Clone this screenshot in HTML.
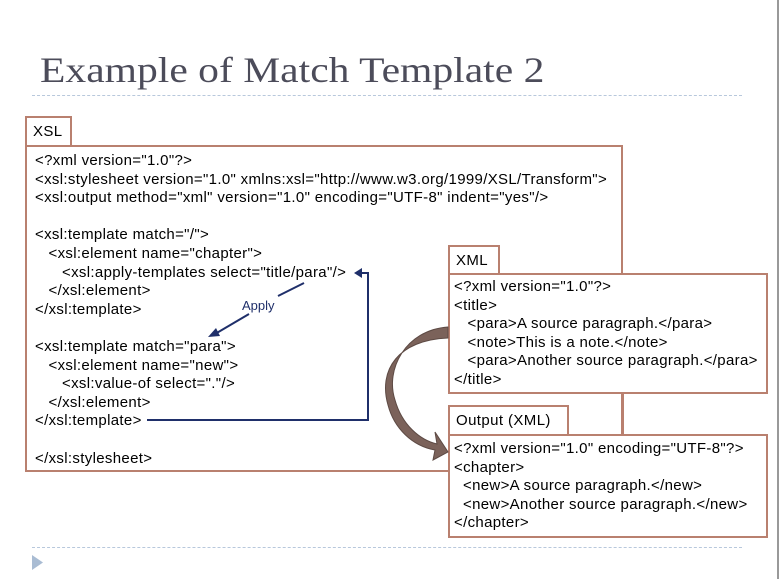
<!DOCTYPE html>
<html><head><meta charset="utf-8"><style>
body{margin:0;width:780px;height:579px;background:#fff;position:relative;overflow:hidden;font-family:"Liberation Sans","DejaVu Sans",sans-serif;}
.t{position:absolute;left:40px;top:49px;font-family:"Liberation Serif",serif;font-size:36px;color:#4c4c5a;white-space:nowrap;transform:scaleX(1.155);transform-origin:0 0;}
.dash{position:absolute;left:32px;width:710px;border-top:1px dashed #b8c8dc;}
.box{position:absolute;border:2px solid #b9806f;background:#fff;box-sizing:border-box;}
.lbl{font-size:15px;letter-spacing:0.4px;color:#000;padding:5px 0 0 6px;white-space:nowrap}
.code{position:absolute;font-size:15px;letter-spacing:0.33px;line-height:18.6px;color:#000;white-space:pre;}
</style></head><body>
<div class="t">Example of Match Template 2</div>
<div class="dash" style="top:95px"></div>
<div class="dash" style="top:547px"></div>
<div style="position:absolute;left:777px;top:0;width:2px;height:579px;background:#999"></div>
<svg style="position:absolute;left:0;top:0" width="780" height="579">
<polygon points="32,555 43,562.5 32,570" fill="#a9bcd3"/>
</svg>

<div class="box" style="left:25px;top:116px;width:47px;height:31px;"><div class="lbl">XSL</div></div>
<div class="box" style="left:25px;top:145px;width:598px;height:327px;"></div>
<div class="code" style="left:35px;top:152px">&lt;?xml version="1.0"?&gt;
&lt;xsl:stylesheet version="1.0" xmlns:xsl="http://www.w3.org/1999/XSL/Transform"&gt;
&lt;xsl:output method="xml" version="1.0" encoding="UTF-8" indent="yes"/&gt;

&lt;xsl:template match="/"&gt;
   &lt;xsl:element name="chapter"&gt;
      &lt;xsl:apply-templates select="title/para"/&gt;
   &lt;/xsl:element&gt;
&lt;/xsl:template&gt;

&lt;xsl:template match="para"&gt;
   &lt;xsl:element name="new"&gt;
      &lt;xsl:value-of select="."/&gt;
   &lt;/xsl:element&gt;
&lt;/xsl:template&gt;

&lt;/xsl:stylesheet&gt;</div>

<div style="position:absolute;left:622px;top:392px;width:2px;height:43px;background:#b9806f"></div>
<div class="box" style="left:448px;top:245px;width:52px;height:30px;"><div class="lbl">XML</div></div>
<div class="box" style="left:448px;top:273px;width:320px;height:121px;"></div>
<div class="code" style="left:454px;top:278px">&lt;?xml version="1.0"?&gt;
&lt;title&gt;
   &lt;para&gt;A source paragraph.&lt;/para&gt;
   &lt;note&gt;This is a note.&lt;/note&gt;
   &lt;para&gt;Another source paragraph.&lt;/para&gt;
&lt;/title&gt;</div>
<div class="box" style="left:448px;top:405px;width:121px;height:31px;"><div class="lbl">Output (XML)</div></div>
<div class="box" style="left:448px;top:434px;width:320px;height:104px;"></div>
<div class="code" style="left:454px;top:440px">&lt;?xml version="1.0" encoding="UTF-8"?&gt;
&lt;chapter&gt;
  &lt;new&gt;A source paragraph.&lt;/new&gt;
  &lt;new&gt;Another source paragraph.&lt;/new&gt;
&lt;/chapter&gt;</div>

<svg style="position:absolute;left:0;top:0" width="780" height="579">
<polyline points="147,420 368,420 368,273 360,273" fill="none" stroke="#1f2f6a" stroke-width="2"/>
<polygon points="354,273 362,268 362,278" fill="#1f2f6a"/>
<line x1="304" y1="283" x2="278" y2="296" stroke="#1f2f6a" stroke-width="2"/>
<line x1="249" y1="314" x2="215" y2="334" stroke="#1f2f6a" stroke-width="2"/>
<polygon points="208,337 216,328 220,336" fill="#1f2f6a"/>
<text x="242" y="310" font-size="13" fill="#1f2f6a" font-family="Liberation Sans,sans-serif">Apply</text>
<path d="M448,327 C405,330 385,370 395,400 C402,425 420,440 437,444 L435,432 L448,452 L433,460 L435,450 C412,446 394,428 388,405 C378,370 398,340 448,338 Z" fill="#7b625a" stroke="#5d4a44" stroke-width="1"/>
</svg>
</body></html>
